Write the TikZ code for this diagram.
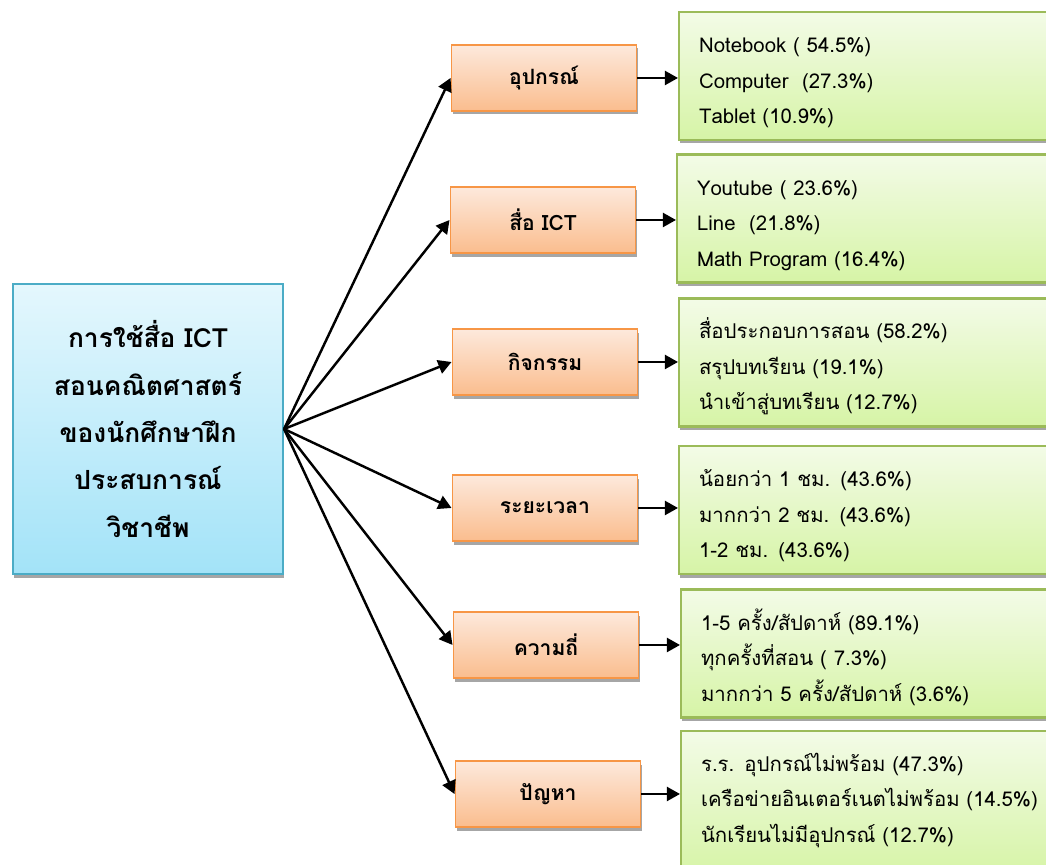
\documentclass[tikz,border=0pt]{standalone}
\usepackage{fontspec}
\setmainfont[Script=Thai]{Loma}
\usetikzlibrary{arrows.meta,shadows}
\definecolor{bordeazul}{HTML}{4BACC6}
\definecolor{azularriba}{HTML}{E4F7FD}
\definecolor{azulabajo}{HTML}{A3E3F8}
\definecolor{bordenaranja}{HTML}{F79646}
\definecolor{naranjaarriba}{HTML}{FDE9DC}
\definecolor{naranjaabajo}{HTML}{FABD8E}
\definecolor{bordeverde}{HTML}{9BBB59}
\definecolor{verdearriba}{HTML}{F3FBE7}
\definecolor{verdeabajo}{HTML}{D6F4A6}

\begin{document}
\begin{tikzpicture}[
    sombra/.style={drop shadow={shadow xshift=0.6pt, shadow yshift=-2pt, opacity=0.35, fill=black}},
    tema/.style={draw=bordeazul, line width=1.2pt, top color=azularriba, bottom color=azulabajo,
        minimum width=5.4cm, minimum height=5.8cm, align=center, sombra,
        font=\fontsize{15}{27}\selectfont\bfseries},
    caja/.style={draw=bordenaranja, line width=1.1pt, top color=naranjaarriba, bottom color=naranjaabajo,
        minimum width=3.7cm, minimum height=1.32cm, sombra,
        font=\fontsize{12}{14}\selectfont\bfseries},
    lista/.style={draw=bordeverde, line width=1.2pt, top color=verdearriba, bottom color=verdeabajo,
        anchor=west, minimum height=2.56cm, text width=7.2cm, inner xsep=0.4cm, align=left, sombra,
        font=\fontsize{11.6}{20.2}\selectfont, execute at begin node={\rule{0pt}{5.8mm}}},
    flecha/.style={line width=1.4pt, -{Triangle[length=7.5pt, width=8pt]}}
  ]
    \useasboundingbox (0, 0) rectangle (20.92, 17.30);
    \clip (0, 0) rectangle (20.92, 17.30);

    % Tema central
    \node[tema] (uso) at (2.96, 8.72) {การใช้สื่อ ICT\\สอนคณิตศาสตร์\\ของนักศึกษาฝึก\\ประสบการณ์\\วิชาชีพ};

    % Categorias
    \node[caja] (equipo) at (10.88, 15.74) {อุปกรณ์};
    \node[caja] (medio) at (10.86, 12.90) {สื่อ ICT};
    \node[caja] (actividad) at (10.90, 10.06) {กิจกรรม};
    \node[caja] (tiempo) at (10.90, 7.14) {ระยะเวลา};
    \node[caja] (frecuencia) at (10.92, 4.40) {ความถี่};
    \node[caja] (problema) at (10.96, 1.42) {ปัญหา};

    % Resultados
    \node[lista] (r1) at (13.56, 15.78) {Notebook ( 54.5\%)\\Computer~ (27.3\%)\\Tablet (10.9\%)};
    \node[lista] (r2) at (13.52, 12.93) {Youtube ( 23.6\%)\\Line~ (21.8\%)\\Math Program (16.4\%)};
    \node[lista] (r3) at (13.56, 10.05) {สื่อประกอบการสอน (58.2\%)\\สรุปบทเรียน (19.1\%)\\นำเข้าสู่บทเรียน (12.7\%)};
    \node[lista] (r4) at (13.56, 7.10) {น้อยกว่า 1 ชม. (43.6\%)\\มากกว่า 2 ชม. (43.6\%)\\1-2 ชม. (43.6\%)};
    \node[lista] (r5) at (13.60, 4.23) {1-5 ครั้ง/สัปดาห์ (89.1\%)\\ทุกครั้งที่สอน ( 7.3\%)\\มากกว่า 5 ครั้ง/สัปดาห์ (3.6\%)};
    \node[lista, minimum height=2.9cm, execute at begin node={}, execute at end node={\par\vspace*{0.35cm}}] (r6) at (13.60, 1.23) {ร.ร. อุปกรณ์ไม่พร้อม (47.3\%)\\เครือข่ายอินเตอร์เนตไม่พร้อม (14.5\%)\\นักเรียนไม่มีอุปกรณ์ (12.7\%)};

    % Flechas
    \foreach \c in {equipo, medio, actividad, tiempo, frecuencia, problema}
      \draw[flecha] (uso.east) -- (\c.west);
    \draw[flecha] (equipo) -- (equipo -| r1.west);
    \draw[flecha] (medio) -- (medio -| r2.west);
    \draw[flecha] (actividad) -- (actividad -| r3.west);
    \draw[flecha] (tiempo) -- (tiempo -| r4.west);
    \draw[flecha] (frecuencia) -- (frecuencia -| r5.west);
    \draw[flecha] (problema) -- (problema -| r6.west);
\end{tikzpicture}
\end{document}
